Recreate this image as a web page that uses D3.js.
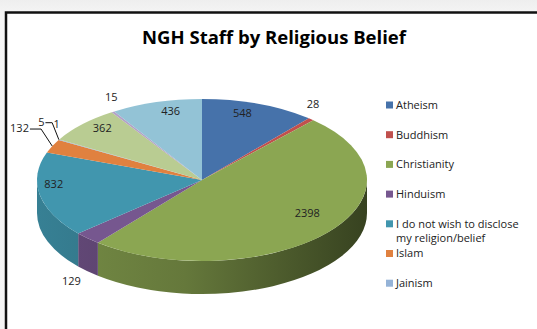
<!DOCTYPE html>
<html>
<head>
<meta charset="utf-8">
<script src="https://cdn.jsdelivr.net/npm/d3@7"></script>
<style>
  html, body { margin: 0; padding: 0; background: #f2f2f2; }
  svg { display: block; }
</style>
</head>
<body>
<svg id="chart" width="537" height="329"></svg>
<script>
// Staff headcount by declared religion or belief
const chartTitle = "NGH Staff by Religious Belief";
const categories = [
  "Atheism", "Buddhism", "Christianity", "Hinduism",
  "I do not wish to disclose my religion/belief", "Islam",
  "Jainism", "Judaism", "Other", "Sikhism", "Unspecified"
];
const staffCounts = [548, 28, 2398, 129, 832, 132, 5, 1, 362, 15, 436];
const sliceColors = [
  "#4672aa", "#c0504d", "#8ba652", "#76578f", "#4196ae", "#e0813f",
  "#95b3d7", "#d99694", "#b9cc92", "#b3a2c7", "#93c3d6"
];

const W = 537, H = 329;
const font = "'Open Sans', 'Liberation Sans', sans-serif";
const svg = d3.select("#chart");
const defs = svg.append("defs");

// page backdrop and chart frame
const bg = defs.append("linearGradient").attr("id", "backdrop")
  .attr("x1", 0).attr("y1", 0).attr("x2", 0).attr("y2", 1);
bg.append("stop").attr("offset", 0).attr("stop-color", "#eeeeee");
bg.append("stop").attr("offset", 0.05).attr("stop-color", "#f6f6f6");
bg.append("stop").attr("offset", 1).attr("stop-color", "#f4f4f4");
svg.append("rect").attr("width", W).attr("height", H).attr("fill", "url(#backdrop)");
svg.append("rect")
  .attr("x", 6).attr("y", 12.5).attr("width", W + 20).attr("height", H + 20)
  .attr("fill", "#ffffff").attr("stroke", "#111111").attr("stroke-width", 2.5);

// title
svg.append("text")
  .attr("x", 274).attr("y", 44)
  .attr("text-anchor", "middle")
  .attr("font-family", font).attr("font-weight", "bold").attr("font-size", 18.5)
  .attr("fill", "#000")
  .text(chartTitle);

// 3-D pie geometry: a tilted disc drawn as an ellipse with a visible front wall
const pieBox = { cx: 202, cy: 180, rx: 165, ry: 81, depth: 33 };
const slices = d3.pie().sort(null).value(d => d)
  .startAngle(0).endAngle(2 * Math.PI)(staffCounts);
const total = d3.sum(staffCounts);

const rim = (a, drop = 0) => [
  pieBox.cx + pieBox.rx * Math.sin(a),
  pieBox.cy - pieBox.ry * Math.cos(a) + drop
];

// horizontal shading for each slice's wall
slices.forEach((s, i) => {
  const base = d3.color(sliceColors[i]);
  const g = defs.append("linearGradient").attr("id", "wall-" + i)
    .attr("gradientUnits", "userSpaceOnUse")
    .attr("x1", pieBox.cx - pieBox.rx).attr("x2", pieBox.cx + pieBox.rx)
    .attr("y1", 0).attr("y2", 0);
  g.append("stop").attr("offset", 0).attr("stop-color", base.darker(0.45));
  g.append("stop").attr("offset", 0.45).attr("stop-color", base.darker(0.9));
  g.append("stop").attr("offset", 1).attr("stop-color", base.darker(2.6));
});

// front walls (only the part facing the viewer, between 90° and 270°)
const wallLayer = svg.append("g");
slices.forEach((s, i) => {
  const a0 = Math.max(s.startAngle, Math.PI / 2);
  const a1 = Math.min(s.endAngle, 3 * Math.PI / 2);
  if (a1 <= a0) return;
  const p0 = rim(a0), p1 = rim(a1);
  const q1 = rim(a1, pieBox.depth), q0 = rim(a0, pieBox.depth);
  const large = (a1 - a0) > Math.PI ? 1 : 0;
  const d = `M${p0}A${pieBox.rx},${pieBox.ry} 0 ${large} 1 ${p1}` +
            `L${q1}A${pieBox.rx},${pieBox.ry} 0 ${large} 0 ${q0}Z`;
  wallLayer.append("path").attr("d", d).attr("fill", `url(#wall-${i})`);
});

// top faces
const arcGen = d3.arc().innerRadius(0).outerRadius(pieBox.rx);
svg.append("g")
  .attr("transform", `translate(${pieBox.cx},${pieBox.cy}) scale(1,${pieBox.ry / pieBox.rx})`)
  .selectAll("path").data(slices).join("path")
  .attr("d", arcGen)
  .attr("fill", (d, i) => sliceColors[i]);

// data labels
const labelLayer = svg.append("g")
  .attr("font-family", font).attr("font-size", 11).attr("fill", "#222");
const placed = [];
const boxOf = (x, y, w) => ({ x0: x - w / 2, x1: x + w / 2, y0: y - 6, y1: y + 6 });
const overlaps = (a, b) => a.x0 < b.x1 + 1 && b.x0 < a.x1 + 1 && a.y0 < b.y1 && b.y0 < a.y1;

// large slices are labelled inside; small ones outside, last slice first
const order = slices.map((s, i) => i)
  .sort((a, b) => slices[b].startAngle - slices[a].startAngle);

order.forEach(i => {
  const s = slices[i];
  const mid = (s.startAngle + s.endAngle) / 2;
  const sn = Math.sin(mid), cs = Math.cos(mid);
  const txt = labelLayer.append("text")
    .attr("text-anchor", "middle").attr("dy", "0.35em")
    .text(d3.format("d")(s.value));
  const w = txt.node().getComputedTextLength();
  let x, y;

  if (s.value / total >= 0.05) {
    // inside the slice, pulled in from the rim
    const fx = 0.6 + 0.32 * Math.abs(sn);
    x = pieBox.cx + pieBox.rx * fx * sn;
    y = pieBox.cy - 8 - pieBox.ry * 0.78 * cs;
  } else {
    const front = cs < 0;
    const [ex, ey] = rim(mid, front ? pieBox.depth : 0);
    if (front) {
      // below the wall's base, pushed outward
      x = ex + 14 * sn + (w / 2) * sn;
      y = ey - 14 * cs;
    } else {
      // just above the rim
      x = ex + 3 * sn;
      y = ey - 15;
    }
    // crowded labels slide outward and get a leader line back to the slice
    const dir = sn < 0 ? -1 : 1;
    let moved = false;
    while (placed.some(b => overlaps(b, boxOf(x, y, w)))) { x += dir; moved = true; }
    if (moved) {
      x += 8 * dir;
      y -= 3;
      const lx = x - dir * (w / 2 + 1);
      labelLayer.append("path")
        .attr("d", `M${lx},${y + 1}H${(lx + ex) / 2}L${ex},${ey}`)
        .attr("fill", "none").attr("stroke", "#111").attr("stroke-width", 1);
    }
  }
  txt.attr("x", x).attr("y", y);
  placed.push(boxOf(x, y, w));
});

// legend: evenly spaced entries, clipped to the space beside the pie
const legendTop = 105, legendStep = 29.7, legendBottom = 300, textMax = 132;
const legendY = d3.scaleLinear().domain([0, 1]).range([legendTop, legendTop + legendStep]);
const legend = svg.append("g").attr("font-family", font).attr("font-size", 11).attr("fill", "#222");
categories.forEach((name, i) => {
  const y = legendY(i);
  if (y + 6 > legendBottom) return;
  legend.append("rect")
    .attr("x", 386).attr("y", y - 3.5).attr("width", 7).attr("height", 7)
    .attr("fill", sliceColors[i]);
  const t = legend.append("text").attr("x", 396).attr("y", y).attr("dy", "0.35em");
  const words = name.split(" ");
  let line = [], ts = t.append("tspan").attr("x", 396);
  words.forEach(wd => {
    line.push(wd);
    ts.text(line.join(" "));
    if (ts.node().getComputedTextLength() > textMax && line.length > 1) {
      line.pop();
      ts.text(line.join(" "));
      line = [wd];
      ts = t.append("tspan").attr("x", 396).attr("dy", "1.3em").text(wd);
    }
  });
});
</script>
</body>
</html>
